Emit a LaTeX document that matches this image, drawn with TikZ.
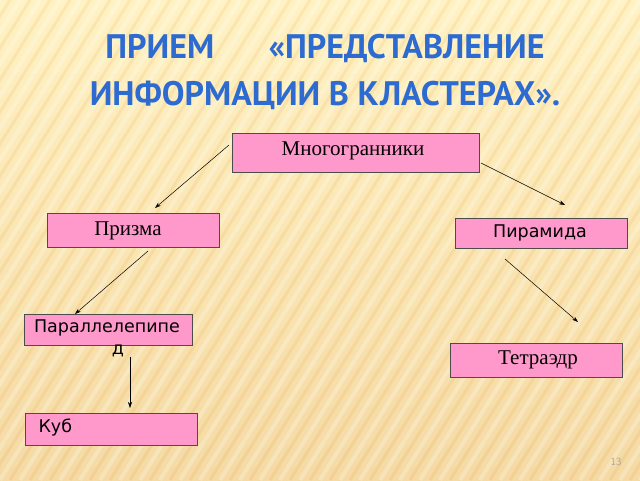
\documentclass[tikz,border=0pt]{standalone}
\usepackage{fontspec}
\setmainfont{Liberation Serif}
\newfontfamily\boxsans{DejaVu Sans}
\newfontfamily\titlefont{PT Sans}
\usetikzlibrary{arrows.meta}
\definecolor{boxpink}{HTML}{FF99CC}
\definecolor{ttlblue}{HTML}{2E6BD0}
\begin{document}
\begin{tikzpicture}[x=1pt,y=-1pt,
  pbox/.style={draw=black!70,fill=boxpink,line width=0.6pt,inner sep=0},
  arr/.style={-{Stealth[length=6pt,width=4pt]},line width=0.5pt},
  ttl/.style={font=\titlefont\bfseries\fontsize{34}{36}\selectfont,text=ttlblue}]
\useasboundingbox (0,0) rectangle (640,480);
\shade[top color=yellow!15!white!90!orange, bottom color=orange!55!yellow!60!brown!40!white] (0,0) rectangle (640,480);
\foreach \i in {-480,-460,...,640} \draw[white,opacity=0.25,line width=4pt] (\i,480) -- (\i+300,0);
\foreach \i in {-470,-450,...,640} \draw[orange!60!brown,opacity=0.1,line width=3pt] (\i,480) -- (\i+300,0);
\node[ttl] (t1) at (325,48) {ПРИЕМ\hspace{1.6em}«ПРЕДСТАВЛЕНИЕ};
\node[ttl] (t2) at (325,95) {ИНФОРМАЦИИ В КЛАСТЕРАХ».};
\draw[pbox] (232,133) rectangle (479,172);
\node[font=\fontsize{21}{24}\selectfont] (m) at (353,151) {Многогранники};
\draw[pbox] (47,213) rectangle (219,247);
\node[font=\fontsize{21}{24}\selectfont] (pr) at (128,231) {Призма};
\draw[pbox] (455,218) rectangle (627,248);
\node[font=\boxsans\fontsize{17.5}{20}\selectfont] (pi) at (540,233) {Пирамида};
\draw[pbox] (24,314) rectangle (192,345);
\node[font=\boxsans\fontsize{17.5}{20}\selectfont] (pa) at (107,328) {Параллелепипе};
\node[font=\boxsans\fontsize{17.5}{20}\selectfont] (pa2) at (118,351) {д};
\draw[pbox] (450,343) rectangle (622,377);
\node[font=\fontsize{21}{24}\selectfont] (te) at (538,360) {Тетраэдр};
\draw[pbox] (25,413) rectangle (197,445);
\node[font=\boxsans\fontsize{17.5}{20}\selectfont,anchor=west] (ku) at (35,428) {Куб};
\node[font=\sffamily\fontsize{11}{12}\selectfont,text=gray!70] (n) at (616,462) {13};
\coordinate (a1) at (229,145); \coordinate (b1) at (155,208);
\coordinate (a2) at (481,163); \coordinate (b2) at (565,205);
\coordinate (a3) at (148,251); \coordinate (b3) at (75,314);
\coordinate (a4) at (505,259); \coordinate (b4) at (578,322);
\coordinate (a5) at (130,357); \coordinate (b5) at (130,408);
\foreach \k in {1,...,5} \draw[arr] (a\k) -- (b\k);
\end{tikzpicture}
\end{document}
